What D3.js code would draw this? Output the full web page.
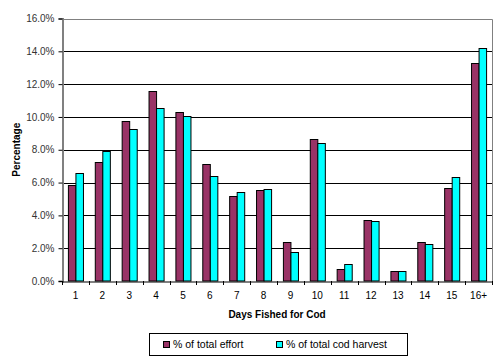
<!DOCTYPE html>
<html>
<head>
<meta charset="utf-8">
<script src="https://cdn.jsdelivr.net/npm/d3@7"></script>
<style>
  body { margin: 0; background: #fff; }
  text { font-family: Arial, "Liberation Sans", sans-serif; }
</style>
</head>
<body>
<script>
// categories and the two series, in percent
var days = ["1","2","3","4","5","6","7","8","9","10","11","12","13","14","15","16+"];
var effort  = [5.85, 7.27, 9.78, 11.59, 10.30, 7.15, 5.20, 5.53, 2.38, 8.64, 0.75, 3.70, 0.59, 2.38, 5.65, 13.27];
var harvest = [6.56, 7.93, 9.29, 10.53, 10.04, 6.40, 5.43, 5.59, 1.79, 8.41, 1.02, 3.64, 0.59, 2.28, 6.34, 14.19];
var seriesNames = ["% of total effort", "% of total cod harvest"];
var seriesColors = ["#993366", "#00ffff"];
var yTicks = [0, 2, 4, 6, 8, 10, 12, 14, 16];

var options = { width: 500, height: 363 };
var plot = { left: 62, right: 492, top: 18.5, bottom: 281 };

var svg = d3.select('body').append('svg')
  .attr('width', options.width)
  .attr('height', options.height);

var x = d3.scaleBand()
  .domain(days)
  .range([plot.left, plot.right])
  .paddingInner(0.44)
  .paddingOuter(0.22);

var xs = d3.scaleBand()
  .domain([0, 1])
  .range([0, x.bandwidth()]);

var y = d3.scaleLinear()
  .domain([0, 16])
  .range([plot.bottom, plot.top]);

// gridlines
svg.append('g')
  .selectAll('line')
  .data(yTicks.filter(function(d) { return d > 0 && d < 16; }))
  .enter().append('line')
  .attr('x1', plot.left).attr('x2', plot.right)
  .attr('y1', function(d) { return Math.round(y(d)) + 0.5; })
  .attr('y2', function(d) { return Math.round(y(d)) + 0.5; })
  .attr('stroke', '#000').attr('stroke-width', 1);

// plot border (top and right)
svg.append('path')
  .attr('d', 'M' + plot.left + ',' + (Math.round(plot.top) + 0.5) +
             'H' + (plot.right + 0.5) + 'V' + plot.bottom)
  .attr('fill', 'none').attr('stroke', '#808080');

// bars
var rows = days.map(function(d, i) { return { day: d, vals: [effort[i], harvest[i]] }; });
var groups = svg.selectAll('g.grp')
  .data(rows)
  .enter().append('g')
  .attr('class', 'grp')
  .attr('transform', function(d) { return 'translate(' + x(d.day) + ',0)'; });

groups.selectAll('rect')
  .data(function(d) { return d.vals.map(function(v, k) { return { k: k, v: v }; }); })
  .enter().append('rect')
  .attr('x', function(d) { return xs(d.k) + 0.5; })
  .attr('y', function(d) { return Math.round(y(d.v)) + 0.5; })
  .attr('width', xs.bandwidth())
  .attr('height', function(d) { return plot.bottom - Math.round(y(d.v)) - 0.5; })
  .attr('fill', function(d) { return seriesColors[d.k]; })
  .attr('stroke', '#000').attr('stroke-width', 1);

// y axis
var yAxis = svg.append('g')
  .attr('transform', 'translate(' + (plot.left + 0.5) + ',0)')
  .call(d3.axisLeft(y).tickValues(yTicks).tickSize(4).tickPadding(4)
    .tickFormat(function(d) { return d.toFixed(1) + '%'; }));
yAxis.select('.domain').attr('stroke', '#808080').attr('stroke-width', 2);
yAxis.selectAll('.tick line').attr('stroke', '#000');
yAxis.selectAll('text').attr('font-size', 10).attr('fill', '#333')
  .attr('font-family', 'Arial, "Liberation Sans", sans-serif');

// x axis
var xAxis = svg.append('g')
  .attr('transform', 'translate(0,' + (plot.bottom + 0.5) + ')')
  .call(d3.axisBottom(x).tickSize(0).tickPadding(10));
xAxis.select('.domain').attr('stroke', '#000');
xAxis.selectAll('text').attr('font-size', 10).attr('fill', '#000')
  .attr('font-family', 'Arial, "Liberation Sans", sans-serif');
// category boundary ticks
svg.append('g').selectAll('line')
  .data(d3.range(days.length + 1))
  .enter().append('line')
  .attr('x1', function(i) { return Math.round(plot.left + i * x.step()) + 0.5; })
  .attr('x2', function(i) { return Math.round(plot.left + i * x.step()) + 0.5; })
  .attr('y1', plot.bottom).attr('y2', plot.bottom + 4)
  .attr('stroke', '#000');

// axis titles
svg.append('text')
  .attr('transform', 'translate(20,' + ((plot.top + plot.bottom) / 2) + ') rotate(-90)')
  .attr('text-anchor', 'middle')
  .attr('font-size', 10).attr('font-weight', 'bold')
  .text('Percentage');

svg.append('text')
  .attr('x', (plot.left + plot.right) / 2).attr('y', 318)
  .attr('text-anchor', 'middle')
  .attr('font-size', 10).attr('font-weight', 'bold')
  .text('Days Fished for Cod');

// legend
var legend = svg.append('g');
legend.append('rect')
  .attr('x', 149.5).attr('y', 333.5).attr('width', 258).attr('height', 22)
  .attr('fill', '#fff').attr('stroke', '#000');
var legendX = [163, 276];
seriesNames.forEach(function(name, k) {
  legend.append('rect')
    .attr('x', legendX[k] + 0.5).attr('y', 341.5).attr('width', 6).attr('height', 6)
    .attr('fill', seriesColors[k]).attr('stroke', '#000');
  legend.append('text')
    .attr('x', legendX[k] + 10).attr('y', 348)
    .attr('font-size', 10.5)
    .text(name);
});
</script>
</body>
</html>
